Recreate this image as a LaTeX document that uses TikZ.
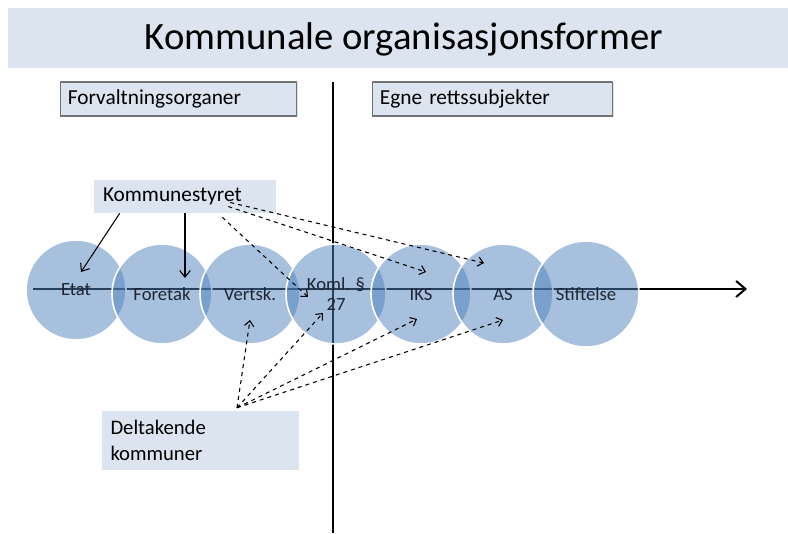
\documentclass[tikz,border=0pt]{standalone}
\usepackage{fontspec}
\setmainfont{Carlito}
\usetikzlibrary{arrows,arrows.meta,positioning,shadows}
\usetikzlibrary{calc}
\definecolor{bandblue}{RGB}{220,228,240}
\definecolor{ringblue}{RGB}{79,129,189}
\definecolor{labelink}{RGB}{30,38,52}

\tikzset{
  form/.style={circle,minimum size=75pt,inner sep=0pt,fill=ringblue,fill opacity=0.5,
    draw=white,line width=1.2pt,text opacity=1,text=labelink,align=center,
    font=\fontsize{14}{15}\selectfont},
  headbox/.style={rectangle,fill=bandblue,draw=black!55,line width=0.8pt,
    minimum height=25.5pt,inner xsep=5.5pt,anchor=west,font=\fontsize{16}{18}\selectfont,
    drop shadow={opacity=0.25,shadow xshift=1pt,shadow yshift=-1pt}},
  lightbox/.style={rectangle,fill=bandblue,inner xsep=6.5pt,align=left,
    font=\fontsize{16}{20}\selectfont},
  solidarr/.style={-{Straight Barb[length=5pt,width=8pt]},line width=0.8pt},
  dasharr/.style={-{Straight Barb[length=4pt,width=7pt]},dashed,line width=0.8pt}
}

\begin{document}
\begin{tikzpicture}[x=0.75pt,y=-0.75pt]
\useasboundingbox (0,0) rectangle (788,533);

% title
\fill[bandblue] (8,8) rectangle (788,68);
\node (title) at (404,39) {\fontsize{29}{34}\selectfont Kommunale organisasjonsformer};

\node[headbox,minimum width=177pt,text width=166pt] (forv) at (60,99) {Forvaltningsorganer};
\node[headbox,minimum width=180pt,text width=169pt] (egne) at (372,99) {Egne rettssubjekter};

% axes
\draw[line width=1.5pt] (333,82) -- (333,533);
\draw[line width=1.5pt,-{Straight Barb[length=7pt,width=12pt]}] (33,289) -- (747,289);

% forms
\node[form] (etat) at (76,290) {Etat};
\node[form] (foretak) at (162,294) {Foretak};
\node[form] (vertsk) at (250,294) {Vertsk.};
\node[form] (koml) at (336,294) {Koml. §\\27};
\node[form] (iks) at (421,294) {IKS};
\node[form] (as) at (503,294) {AS};
\node[form,minimum size=79.5pt] (stift) at (586,294) {Stiftelse};

\node[lightbox,minimum width=136.5pt,minimum height=24.75pt,text width=123pt] (kstyre) at (185,196.5) {Kommunestyret};
\node[lightbox,minimum width=147.75pt,minimum height=44.25pt,text width=135pt,
  font=\fontsize{15.5}{20}\selectfont] (delt) at (200.5,440.5) {Deltakende\\kommuner};

% from Kommunestyret
\draw[solidarr] ($(kstyre.south west)+(26,0)$) -- ($(etat)+(5,-18)$);
\draw[solidarr] (kstyre.south) -- ($(foretak)+(23,-16)$);
\draw[dasharr] ($(kstyre.south east)+(-54,4)$) -- ($(koml)+(-28,3)$);
\draw[dasharr] ($(kstyre.east)+(-48,10)$) -- ($(iks)+(5,-22)$);
\draw[dasharr] ($(kstyre.east)+(-46,6)$) -- ($(as)+(-19,-31)$);

% from Deltakende kommuner
\draw[dasharr] ($(delt.north)+(36.5,-3)$) -- ($(vertsk)+(0,26)$);
\draw[dasharr] ($(delt.north)+(36.5,-3)$) -- ($(koml)+(-13,19)$);
\draw[dasharr] ($(delt.north)+(36.5,-3)$) -- ($(iks)+(-4,25)$);
\draw[dasharr] ($(delt.north)+(36.5,-3)$) -- ($(as)+(0,26)$);
\end{tikzpicture}
\end{document}
